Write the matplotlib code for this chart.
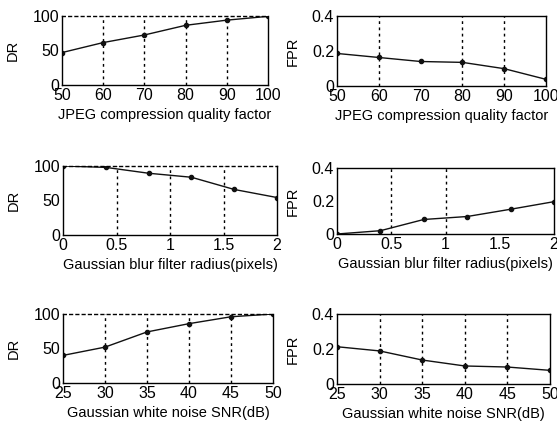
import matplotlib
matplotlib.use("Agg")
import matplotlib.pyplot as plt

plt.rcParams['font.family'] = ['Liberation Sans', 'DejaVu Sans']

# JPEG compression
jpeg_q = [50, 60, 70, 80, 90, 100]
jpeg_dr = [47, 61.5, 72.5, 86.5, 94, 99.5]
jpeg_fpr = [0.186, 0.163, 0.140, 0.135, 0.099, 0.038]

# Gaussian blur
blur_r = [0, 0.4, 0.8, 1.2, 1.6, 2.0]
blur_dr = [100, 98, 89.5, 83.7, 66, 54.3]
blur_fpr = [0.0, 0.02, 0.088, 0.106, 0.15, 0.196]

# Gaussian white noise
snr = [25, 30, 35, 40, 45, 50]
snr_dr = [40, 52, 74, 86, 96, 100]
snr_fpr = [0.213, 0.189, 0.137, 0.103, 0.097, 0.078]

xticks_jpeg = [50, 60, 70, 80, 90, 100]
xticks_blur = [0, 0.5, 1, 1.5, 2]
xticks_snr = [25, 30, 35, 40, 45, 50]

W, H = 557, 430
fig = plt.figure(figsize=(W / 100, H / 100), dpi=100)


def make_axes(l, t, r, b):
    return fig.add_axes([l / W, 1 - b / H, (r - l) / W, (b - t) / H])


panels = [
    # (box px, x, y, xlabel, ylabel, xticks, grid x, yticks, ylim, dotted top)
    ((62, 16, 268, 85), jpeg_q, jpeg_dr, 'JPEG compression quality factor', 'DR',
     xticks_jpeg, [60, 70, 80, 90], [0, 50, 100], (0, 100), True),
    ((337, 16, 546, 86), jpeg_q, jpeg_fpr, 'JPEG compression quality factor', 'FPR',
     xticks_jpeg, [60, 80, 90], [0, 0.2, 0.4], (0, 0.4), False),
    ((63, 166, 277, 235), blur_r, blur_dr, 'Gaussian blur filter radius(pixels)', 'DR',
     xticks_blur, [0.5, 1, 1.5], [0, 50, 100], (0, 100), True),
    ((337, 168, 554, 234), blur_r, blur_fpr, 'Gaussian blur filter radius(pixels)', 'FPR',
     xticks_blur, [0.5, 1], [0, 0.2, 0.4], (0, 0.4), False),
    ((63, 314, 273, 383), snr, snr_dr, 'Gaussian white noise SNR(dB)', 'DR',
     xticks_snr, [30, 35, 40, 45], [0, 50, 100], (0, 100), True),
    ((337, 314, 550, 384), snr, snr_fpr, 'Gaussian white noise SNR(dB)', 'FPR',
     xticks_snr, [30, 35, 40, 45], [0, 0.2, 0.4], (0, 0.4), False),
]

for box, x, y, xl, yl, xt, gx, yt, ylim, dotted_top in panels:
    ax = make_axes(*box)
    for g in gx:
        ax.axvline(g, color='black', ls=(0, (2, 2.5)), lw=1)
    ax.plot(x, y, color='#111111', lw=1, marker='o', ms=3)
    ax.set_xlim(xt[0], xt[-1])
    ax.set_ylim(*ylim)
    ax.set_xticks(xt)
    ax.set_xticklabels([f'{v:g}' for v in xt])
    ax.set_yticks(yt)
    ax.set_yticklabels([f'{v:g}' for v in yt])
    ax.tick_params(labelsize=11.5, length=0, pad=2)
    ax.set_xlabel(xl, fontsize=10.5, labelpad=4)
    ax.set_ylabel(yl, fontsize=10.5, labelpad=9)
    for s in ax.spines.values():
        s.set_linewidth(1)
    if dotted_top:
        ax.spines['top'].set_linestyle((0, (2, 2.5)))

fig.savefig('out.png', dpi=100)
